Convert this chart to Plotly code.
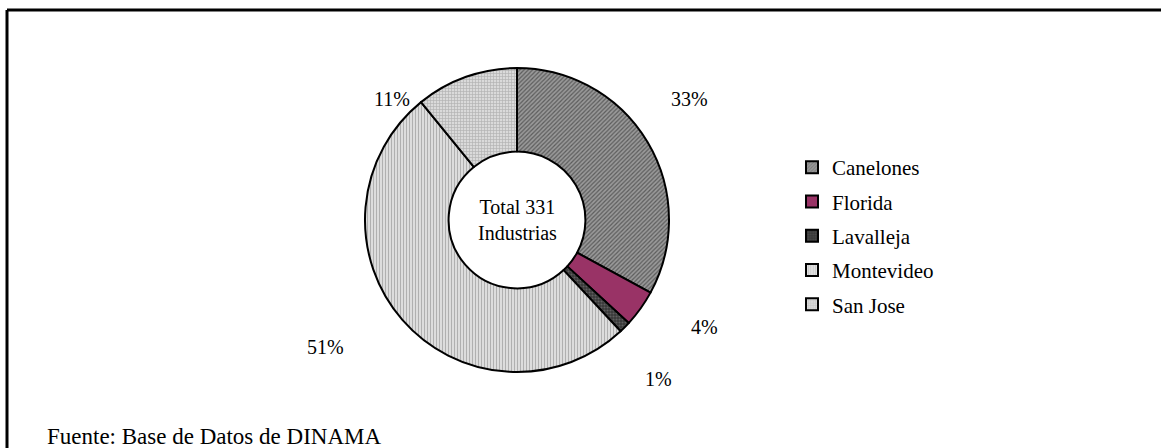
import plotly.graph_objects as go

# Industrias por departamento
departamentos = ["Canelones", "Florida", "Lavalleja", "Montevideo", "San Jose"]
industrias = [109, 13, 4, 169, 36]
total_industrias = sum(industrias)

# Estilo de cada sector
relleno = ["#9a9a9a", "#993366", "#383838", "#e2e2e2", "#dadada"]
trama_color = ["#5c5c5c", "#993366", "#606060", "#b0b0b0", "#b4b4b4"]
trama = ["/", "", ".", "|", "+"]

# Ubicación de las etiquetas de porcentaje (coordenadas de papel)
pos_etiquetas = [(0.594, 0.78), (0.607, 0.27), (0.567, 0.155), (0.28, 0.225), (0.338, 0.78)]

W, H = 1161, 448
cx, cy, R = 517, 220, 152

fig = go.Figure()
fig.add_trace(go.Pie(
    labels=departamentos,
    values=industrias,
    sort=False,
    direction="clockwise",
    rotation=0,
    hole=0.45,
    textinfo="none",
    hoverinfo="label+value+percent",
    showlegend=False,
    marker=dict(
        colors=relleno,
        line=dict(color="black", width=2),
        pattern=dict(shape=trama, fgcolor=trama_color, bgcolor=relleno,
                     size=3, solidity=0.4),
    ),
    domain=dict(x=[(cx - R) / W, (cx + R) / W],
                y=[(H - cy - R) / H, (H - cy + R) / H]),
))

# Entradas de leyenda (una por departamento)
for i, d in enumerate(departamentos):
    fig.add_trace(go.Bar(
        x=[None], y=[None], name=d, legendgroup=d,
        marker=dict(color=relleno[i], line=dict(color="black", width=2),
                    pattern=dict(shape=trama[i], fgcolor=trama_color[i],
                                 bgcolor=relleno[i], size=3, solidity=0.4)),
        showlegend=True,
    ))

anotaciones = []
for i, v in enumerate(industrias):
    px, py = pos_etiquetas[i]
    anotaciones.append(dict(
        x=px, y=py, xref="paper", yref="paper",
        xanchor="center", yanchor="middle",
        text=f"{round(100 * v / total_industrias)}%", showarrow=False,
        font=dict(family="Liberation Serif", size=20, color="black"),
    ))
anotaciones.append(dict(
    x=cx / W, y=(H - cy) / H, xref="paper", yref="paper",
    xanchor="center", yanchor="middle",
    text=f"Total {total_industrias}<br>Industrias", showarrow=False,
    font=dict(family="Liberation Serif", size=20, color="black"),
))
anotaciones.append(dict(
    x=45 / W, y=(H - 436) / H, xref="paper", yref="paper",
    xanchor="left", yanchor="middle",
    text="Fuente: Base de Datos de DINAMA", showarrow=False,
    font=dict(family="Liberation Serif", size=23, color="black"),
))

fig.update_layout(
    width=W, height=H,
    margin=dict(l=0, r=0, t=0, b=0),
    paper_bgcolor="white", plot_bgcolor="white",
    xaxis=dict(visible=False, domain=[0.99, 1.0]),
    yaxis=dict(visible=False, domain=[0.99, 1.0]),
    font=dict(family="Liberation Serif", size=20, color="black"),
    legend=dict(x=792 / W, y=(H - 147) / H, xanchor="left", yanchor="top",
                tracegroupgap=4, itemwidth=30,
                font=dict(family="Liberation Serif", size=21, color="black")),
    annotations=anotaciones,
    shapes=[
        dict(type="line", xref="paper", yref="paper",
             x0=7 / W, x1=1.0, y0=(H - 10) / H, y1=(H - 10) / H,
             line=dict(color="black", width=3)),
        dict(type="line", xref="paper", yref="paper",
             x0=7 / W, x1=7 / W, y0=(H - 10) / H, y1=0,
             line=dict(color="black", width=3)),
    ],
)

fig.write_html("out.html")
